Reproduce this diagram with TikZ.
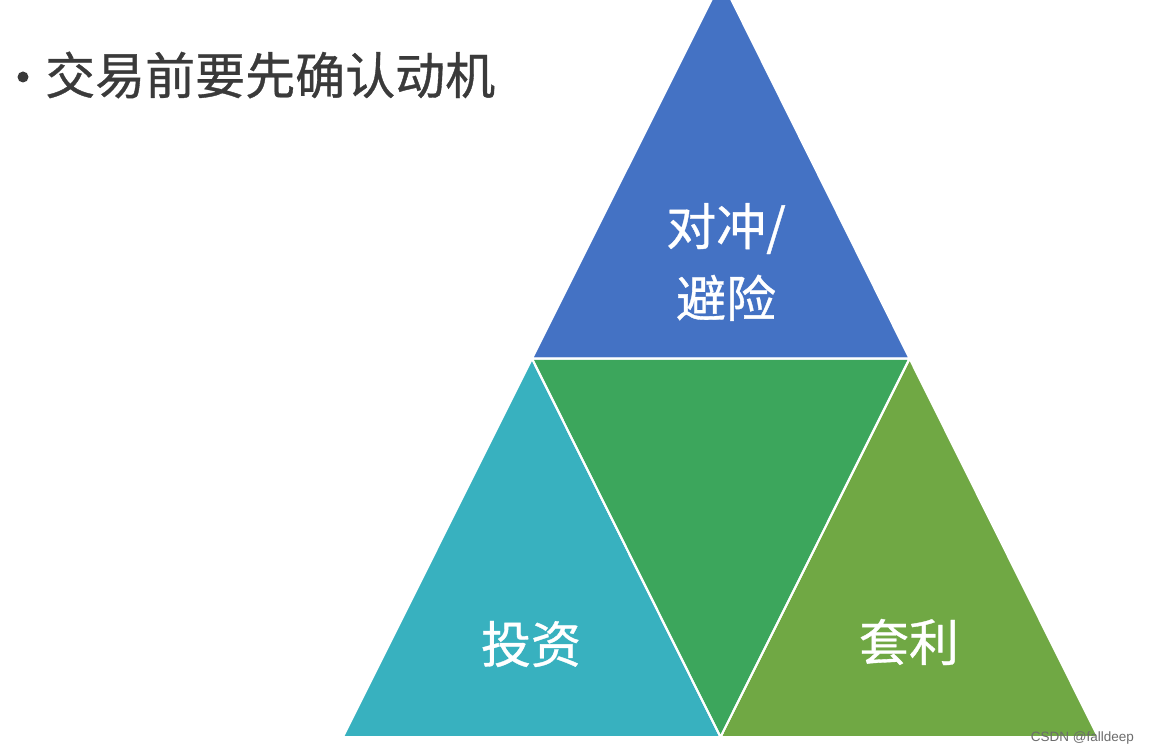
\documentclass[tikz,border=0pt]{standalone}
\usepackage{fontspec}
\newfontfamily\cjk[FakeBold=0.7]{Noto Sans CJK SC}
\setsansfont{Liberation Sans}
\usetikzlibrary{positioning}
\definecolor{topc}{HTML}{4472C4}
\definecolor{midc}{HTML}{3CA65C}
\definecolor{leftc}{HTML}{38B1BF}
\definecolor{rightc}{HTML}{70A844}
\definecolor{ttl}{HTML}{3A3A3A}
\tikzset{
  tri/.style={draw=white,line width=2pt,line join=miter},
  lbl/.style={text=white,align=center,inner sep=0pt,font=\cjk\fontsize{50}{72}\selectfont},
}
\begin{document}
\begin{tikzpicture}[x=1pt,y=-1pt]
\useasboundingbox (0,0) rectangle (1149,754);
\clip (0,0) rectangle (1149,754);
% corners and midpoints
\coordinate (a) at (721.5,-20);
\coordinate (l) at (343,737);
\coordinate (r) at (1098,737);
\coordinate (ml) at (532,358.5);
\coordinate (mr) at (909.5,358.5);
\coordinate (mb) at (720.5,737);
\fill[tri,fill=topc] (a) -- (ml) -- (mr) -- cycle;
\fill[tri,fill=leftc] (ml) -- (l) -- (mb) -- cycle;
\fill[tri,fill=rightc] (mr) -- (mb) -- (r) -- cycle;
\fill[tri,fill=midc] (ml) -- (mr) -- (mb) -- cycle;
\draw[white,line width=2pt] (ml) -- (mr) (ml) -- (mb) -- (mr);
% labels
\node[lbl] (hedge) at (726,262) {对冲/\\避险};
\node[lbl] (invest) at (531,644) {投资};
\node[lbl] (arb) at (909,642) {套利};
% title
\node[circle,fill=ttl,inner sep=0pt,minimum size=11pt] (dot) at (23,77) {};
\node[anchor=west,inner sep=0pt,text=ttl,font=\cjk\fontsize{50}{56}\selectfont] (title) at (45,75) {交易前要先确认动机};
\node[anchor=east,inner sep=0pt,text=gray!85!black,font=\sffamily\fontsize{13.5}{16}\selectfont] (mark) at (1134,738) {CSDN @falldeep};
\end{tikzpicture}
\end{document}
